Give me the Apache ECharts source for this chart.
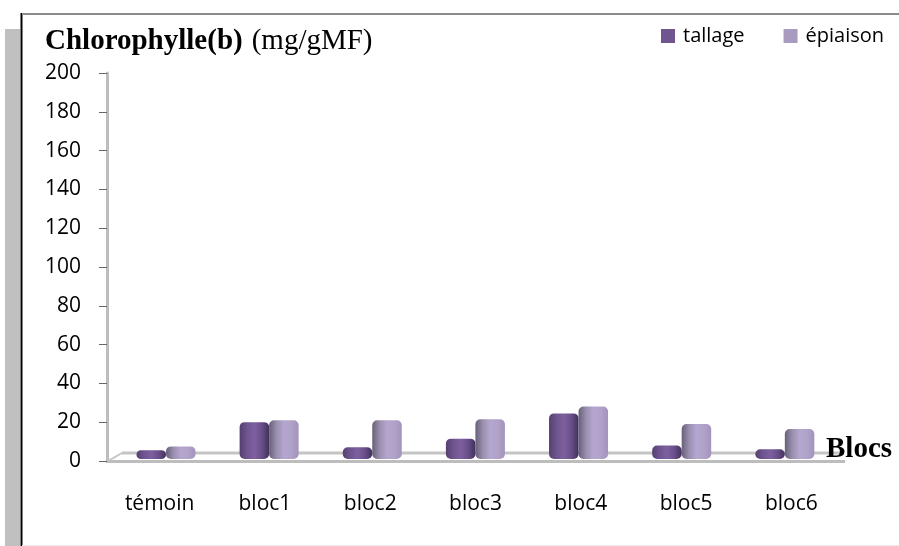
<!DOCTYPE html>
<html><head><meta charset="utf-8">
<style>html,body{margin:0;padding:0;background:#fff}#c{width:899px;height:546px}</style>
<script src="https://cdn.jsdelivr.net/npm/echarts@6/dist/echarts.min.js"></script>
</head><body><div id="c"></div>
<script>
const categories = ['témoin','bloc1','bloc2','bloc3','bloc4','bloc5','bloc6'];
const tallage = [4.5,19,6,10.5,23.5,7,5];
const epiaison = [6.5,20,20,20.5,27,18,15.5];
const yTicks = {min:0,max:200,interval:20};
const sans = '"Open Sans"', serif = '"Liberation Serif"';
const grad = stops => ({type:'linear',x:0,y:0,x2:1,y2:0,colorStops:stops.map((c,i)=>({offset:i/(stops.length-1),color:c}))});
const darkFill = grad(['#54406f','#6f5490','#7d5f9f','#6a4f8a','#40315a']);
const lightFill = grad(['#67607a','#9a8fae','#b5a6cf','#b0a2c9','#a193bb']);
const chart = echarts.init(document.getElementById('c'),null,{renderer:'canvas'});
chart.setOption({
  animation:false,
  backgroundColor:'#fff',
  title:[
    {left:40,top:22,itemGap:0,text:'{b|Chlorophylle(b)} {r|(mg/gMF)}',
     textStyle:{fontWeight:'normal',rich:{b:{fontFamily:serif,fontWeight:'bold',fontSize:29,color:'#000'},r:{fontFamily:serif,fontWeight:'normal',fontSize:29,color:'#000',padding:[0,0,0,4]}}}},
    {left:821,top:430,text:'Blocs',textStyle:{fontFamily:serif,fontWeight:'bold',fontSize:29,color:'#000'}}
  ],
  legend:{left:656,top:21,itemWidth:14,itemHeight:14,itemGap:39,icon:'rect',
    textStyle:{fontFamily:sans,fontSize:20,color:'#000',padding:[0,0,0,3]},
    data:[{name:'tallage',itemStyle:{color:'#6f5490'}},{name:'épiaison',itemStyle:{color:'#a99bc0'}}]},
  grid:[
    {left:107,top:73,width:737,height:388},
    {left:114.4,top:71,width:722,height:388}
  ],
  xAxis:[
    {type:'category',gridIndex:0,data:categories,
     axisLine:{lineStyle:{color:'#bdbdbd',width:3}},
     axisTick:{length:10,lineStyle:{color:'#8a8a8a',width:1}},
     axisLabel:{margin:33,fontFamily:sans,fontSize:21,color:'#000'}},
    {type:'category',gridIndex:1,data:categories,show:false}
  ],
  yAxis:[
    {type:'value',gridIndex:0,min:yTicks.min,max:yTicks.max,interval:yTicks.interval,
     axisLine:{show:true,lineStyle:{color:'#bdbdbd',width:3}},
     axisTick:{show:true,length:8,lineStyle:{color:'#666',width:1}},
     splitLine:{show:false},
     axisLabel:{margin:26,fontFamily:sans,fontSize:21,color:'#000'}},
    {type:'value',gridIndex:1,min:yTicks.min,max:yTicks.max,show:false,splitLine:{show:false}}
  ],
  series:[
    {name:'tallage',type:'bar',xAxisIndex:1,yAxisIndex:1,data:tallage,barWidth:29.5,barGap:'0%',z:5,
     itemStyle:{color:darkFill,borderRadius:[5,5,5,5]}},
    {name:'épiaison',type:'bar',xAxisIndex:1,yAxisIndex:1,data:epiaison,barWidth:29.5,barGap:'0%',z:5,
     itemStyle:{color:lightFill,borderRadius:[5,5,5,5]}}
  ],
  graphic:[
    {type:'rect',z:-1,shape:{x:5,y:29,width:15,height:517},style:{fill:'#c0c0c0'}},
    {type:'line',z:1,shape:{x1:21.5,y1:13,x2:21.5,y2:546},style:{stroke:'#000',lineWidth:2}},
    {type:'line',z:1,shape:{x1:22,y1:14,x2:899,y2:14},style:{stroke:'#8c8c8c',lineWidth:2}},
    {type:'line',z:1,shape:{x1:22,y1:545.5,x2:899,y2:545.5},style:{stroke:'#eeeeee',lineWidth:1}},
    {type:'line',z:1,shape:{x1:122,y1:453,x2:844,y2:453},style:{stroke:'#c4c4c4',lineWidth:3}},
    {type:'line',z:1,shape:{x1:108,y1:461,x2:122,y2:453},style:{stroke:'#c4c4c4',lineWidth:2}}
  ]
});
</script></body></html>
